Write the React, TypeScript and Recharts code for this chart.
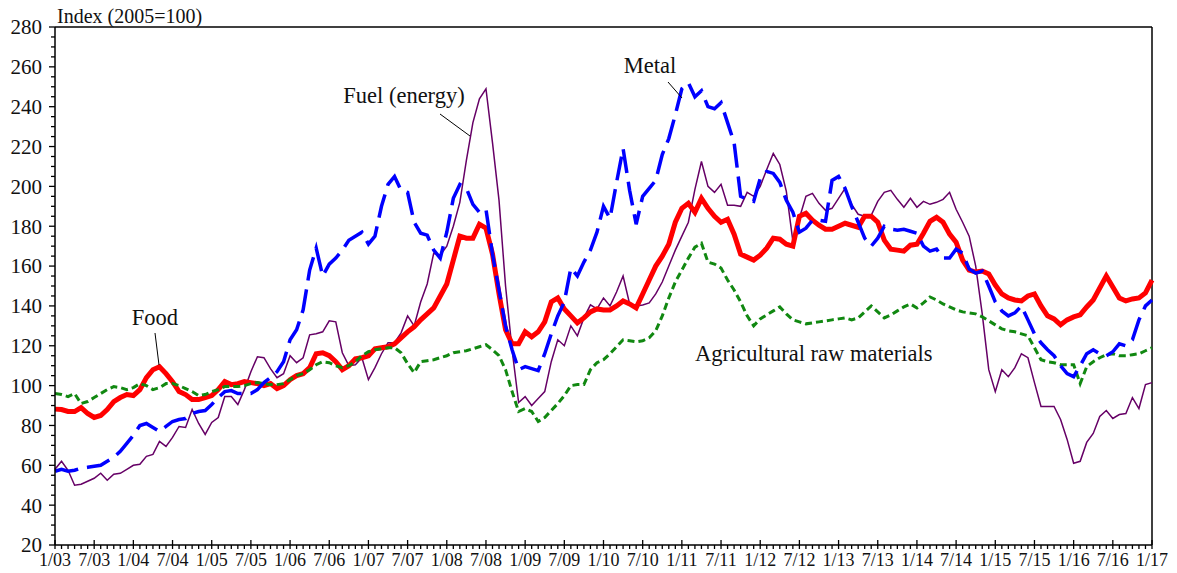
import { LineChart, Line, XAxis, YAxis, ReferenceLine } from 'recharts';

const FONT = '"Liberation Serif", "DejaVu Serif", "Times New Roman", serif';
const TXT = { fontFamily: FONT };

// x-axis labels, one every 6 months (1/03 ... 1/17)
const tickLabels = [
    '1/03', '7/03', '1/04', '7/04', '1/05', '7/05', '1/06', '7/06', '1/07', '7/07',
    '1/08', '7/08', '1/09', '7/09', '1/10', '7/10', '1/11', '7/11', '1/12', '7/12',
    '1/13', '7/13', '1/14', '7/14', '1/15', '7/15', '1/16', '7/16', '1/17',
];

// monthly index values, 2005=100, Jan 2003 .. Jan 2017 (one row per year)
const food = [
    88.2, 88, 87, 87, 89, 86, 84, 85, 88, 92, 94, 95.5,
    95, 98, 104, 108, 109.5, 106, 102, 97, 95.5, 93, 93, 94,
    95, 98, 102, 100.5, 101, 102, 101.5, 101, 100, 101, 98.5, 100,
    103, 105, 106, 109, 116, 116.5, 115, 112, 108, 110, 113.5, 114,
    115, 118.5, 119, 119.5, 121, 124, 127, 129.5, 133, 136, 139, 145,
    151, 163, 175, 174, 174, 181, 179, 166, 146, 128, 121, 121,
    127, 124.5, 127, 132, 142, 144, 138.5, 135, 131.5, 134, 137, 138.5,
    138, 138, 140, 142.5, 141, 139, 146, 153, 160, 165, 171, 182,
    189, 191.5, 187, 194, 189, 185, 182, 183.5, 176, 166, 164.5, 163,
    165.5, 169, 174, 173.5, 171, 170, 185, 186.5, 183, 180.5, 178.5, 178.5,
    180, 181.5, 180.5, 179.5, 185, 185, 182, 173, 168.5, 168, 167.5, 170.5,
    171, 176.5, 182.5, 184.5, 182, 176, 172, 163, 158, 157, 157.5, 156,
    150.5, 146, 144, 143, 142.5, 145, 146, 140, 135, 133.5, 130.5, 133,
    134.5, 135.5, 139.5, 143, 149, 155, 149.5, 144, 142.5, 143.5, 144, 146.5,
    153,
];

const fuel = [
    58, 62, 57.5, 50, 50.5, 52, 53.5, 56, 52.5, 55.5, 56, 58,
    60, 60.5, 64.5, 65.5, 72, 69.5, 74, 79.5, 79, 88, 81, 75.5,
    81.5, 84, 94.5, 94.5, 90.5, 98, 107, 114.5, 114, 108.5, 104, 106,
    115, 111.5, 114, 125.5, 126, 127, 132.5, 132, 116.5, 110, 110.5, 114,
    103, 109, 116, 121.5, 121.5, 126.5, 135, 130, 142, 151, 166.5, 165.5,
    170, 180, 192, 213, 232, 244, 249, 222, 193, 150, 118, 91.5,
    94.5, 90, 93.5, 97, 112, 123, 120, 130, 125, 134, 140.5, 138.5,
    144, 140, 147, 155, 141, 140, 140.5, 141.5, 146, 152, 160, 168,
    175, 182, 198.5, 212.5, 200, 197, 201, 190.5, 190.5, 190, 197, 195,
    200, 208.5, 216.5, 211, 197.5, 172.5, 184, 195, 196.5, 191.5, 188, 189,
    194, 199, 191, 186, 185, 185.5, 192.5, 197, 198, 193.5, 189.5, 194,
    189.5, 192.5, 191, 192, 193.5, 197, 188.5, 182, 175, 160, 136, 108,
    97, 108, 104.5, 109, 116, 114, 101.5, 89.5, 89.5, 89.5, 83, 73,
    61, 62, 71.5, 76, 84.5, 87.5, 83.5, 85.5, 86, 94, 88.5, 100.5,
    101.5,
];

const metal = [
    57, 58, 57, 57.5, 58.5, 59, 59.5, 60, 62, 64, 67, 71,
    75, 80, 81, 79, 77, 79.5, 82, 83, 83.5, 86, 87, 87.5,
    90.5, 94, 97, 97.5, 96, 96, 96, 98, 101.5, 104, 107, 112,
    123, 128, 138, 158, 169, 155, 161, 164, 168, 173, 175, 177,
    171, 175, 190, 201, 205, 198, 197, 182, 176.5, 175.5, 168, 164,
    177, 194, 201, 199, 191, 187, 188.5, 166, 148, 130, 118, 108,
    109.5, 108.5, 107.5, 116, 126, 135, 142, 159, 155, 162, 168, 177,
    190, 184, 202, 219, 198, 181, 195, 199, 203, 216, 224, 236,
    249, 252, 245, 248, 240, 239, 242, 232, 222, 195, 193.5, 192.5,
    204, 207.5, 206.5, 202, 193, 187, 177, 179, 183, 183, 182.5, 203,
    205, 199, 190, 182, 174, 170, 174, 180, 178.5, 178, 178.5, 177.5,
    176.5, 170, 167.5, 168.5, 164, 164, 168.5, 166.5, 158.5, 156.5, 157.5, 150,
    142, 137.5, 135, 136.5, 140, 133, 126, 121.5, 118, 115, 110, 106,
    104.5, 110, 116, 118, 116, 115, 117, 121, 120, 123, 133, 140,
    143,
];

const agri = [
    96, 95.5, 94.5, 96, 91, 92, 94, 96, 98, 99.5, 99, 98,
    99, 101, 100, 98, 99, 101, 101, 100, 98.5, 97, 95, 95.5,
    97, 98, 99.5, 99.5, 99.5, 100, 101, 101.5, 101, 100.5, 100.5, 101,
    103, 105, 106, 108, 110.5, 112, 111.5, 110, 109, 110, 112, 115,
    117, 118, 118.5, 119, 119, 116.5, 111, 106.5, 112, 112.5, 113, 114,
    115, 116.5, 117, 117.5, 118.5, 119.5, 120.5, 118, 115, 108, 97, 87,
    88.5, 87, 82, 84, 87.5, 91, 95, 100, 100.5, 100.5, 108, 111.5,
    113, 116, 119.5, 123, 122.5, 122, 122.5, 124, 127.5, 135, 144, 152,
    158, 164, 169.5, 171.5, 162, 161, 159, 153, 148, 142, 135, 130,
    133.5, 135.5, 137.5, 139.5, 136, 133, 132, 131, 131.5, 132, 132.5, 133,
    133.5, 134, 133, 134, 137, 140, 137, 134, 135.5, 137.5, 139.5, 141,
    139, 141.5, 144.5, 143, 141, 139.5, 138, 137, 136.5, 136, 134.5, 132.5,
    130.5, 128.5, 127.5, 127, 126, 125, 119, 113, 112, 111.5, 110.5, 110.5,
    110.5, 101, 109.5, 112, 114, 115.5, 116, 115, 115, 115.5, 116, 117.5,
    119,
];

const data = food.map((v, i) => ({ m: i, food: v, fuel: fuel[i], metal: metal[i], agri: agri[i] }));
const monthTicks = food.map((_, i) => i);
const yTicks = Array.from({ length: 53 }, (_, k) => 20 + k * 5);

if (typeof document !== 'undefined') document.body.style.margin = '0';

const XTick = (props: any) => {
    const { x, y, payload } = props;
    const m = payload.value;
    const major = m % 6 === 0;
    return (
        <g>
            <line x1={x} x2={x} y1={major ? y - 5 : y} y2={y + 4} stroke="#000" strokeWidth={1.3} />
            {major && (
                <text x={x} y={y + 21} textAnchor="middle" fontSize={18} fill="#111" style={TXT}>
                    {tickLabels[m / 6]}
                </text>
            )}
        </g>
    );
};

const YTick = (props: any) => {
    const { x, y, payload } = props;
    const v = payload.value;
    const major = v % 20 === 0;
    return (
        <g>
            <line x1={x - (major ? 6 : 4)} x2={x} y1={y} y2={y} stroke="#000" strokeWidth={1.3} />
            {major && (
                <text x={x - 13} y={y} dy="0.35em" textAnchor="end" fontSize={21} fill="#111" style={TXT}>
                    {v}
                </text>
            )}
        </g>
    );
};

export default function App() {
    return (
        <div style={{ position: 'relative', width: 1177, height: 573, background: '#fff', fontFamily: FONT }}>
            <LineChart width={1177} height={573} data={data} margin={{ top: 27, right: 25, bottom: 0, left: 0 }}>
                <XAxis
                    dataKey="m" type="number" domain={[0, 168]} ticks={monthTicks} interval={0}
                    height={28} tickSize={0} tickMargin={0} tickLine={false} tick={XTick}
                    axisLine={{ stroke: '#000', strokeWidth: 1.5 }}
                />
                <YAxis
                    type="number" domain={[20, 280]} ticks={yTicks} interval={0}
                    width={55} tickSize={0} tickMargin={0} tickLine={false} tick={YTick}
                    axisLine={{ stroke: '#000', strokeWidth: 1.5 }}
                />
                <ReferenceLine y={280} stroke="#000" strokeWidth={1.5} />
                <ReferenceLine x={168} stroke="#000" strokeWidth={1.5} />
                <Line dataKey="fuel" type="linear" stroke="#660066" strokeWidth={1.5} dot={false} isAnimationActive={false} />
                <Line dataKey="food" type="linear" stroke="#ff0000" strokeWidth={5} dot={false} isAnimationActive={false} />
                <Line dataKey="agri" type="linear" stroke="#118811" strokeWidth={3} strokeDasharray="7 4" dot={false} isAnimationActive={false} />
                <Line dataKey="metal" type="linear" stroke="#0000ff" strokeWidth={3.5} strokeDasharray="24 9" dot={false} isAnimationActive={false} />
            </LineChart>

            {/* title and series annotations */}
            <svg width={1177} height={573} style={{ position: 'absolute', left: 0, top: 0, pointerEvents: 'none' }}>
                <text x={57} y={23} fontSize={20} fill="#111" style={TXT}>Index (2005=100)</text>

                <text x={155} y={325} fontSize={22.5} textAnchor="middle" fill="#111" style={TXT}>Food</text>
                <line x1={155} y1={333} x2={159} y2={365} stroke="#000" strokeWidth={1} />

                <text x={404} y={103} fontSize={22.5} textAnchor="middle" fill="#111" style={TXT}>Fuel (energy)</text>
                <line x1={440} y1={114} x2={470} y2={136} stroke="#000" strokeWidth={1} />

                <text x={650} y={73} fontSize={22.5} textAnchor="middle" fill="#111" style={TXT}>Metal</text>
                <line x1={668} y1={82} x2={682} y2={98} stroke="#000" strokeWidth={1} />

                <text x={695} y={361} fontSize={22.5} fill="#111" style={TXT}>Agricultural raw materials</text>
            </svg>
        </div>
    );
}
